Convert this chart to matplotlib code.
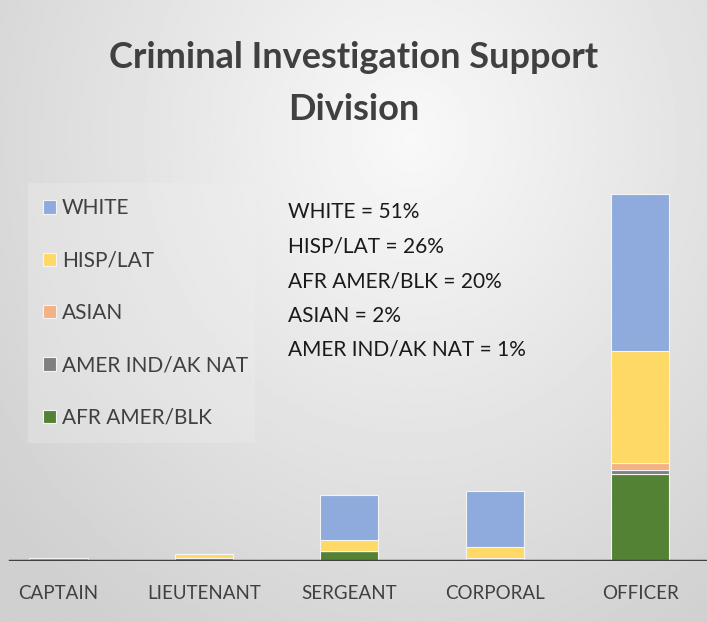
import numpy as np
import matplotlib.pyplot as plt
from matplotlib.patches import Rectangle

plt.rcParams['font.family'] = ['Lato', 'DejaVu Sans']

ranks = ["CAPTAIN", "LIEUTENANT", "SERGEANT", "CORPORAL", "OFFICER"]
# stacked bottom -> top
groups = ["AFR AMER/BLK", "AMER IND/AK NAT", "ASIAN", "HISP/LAT", "WHITE"]
afr = [0, 1, 3, 0, 25]
amer_ind = [0, 0, 0, 0, 1]
asian = [0, 0, 0, 1, 2]
hisp = [0, 1, 3, 3, 32]
white = [1, 0, 13, 16, 45]
colors = ["#548235", "#7f7f7f", "#f4b183", "#ffd966", "#8faadc"]

pct_names = ["WHITE", "HISP/LAT", "AFR AMER/BLK", "ASIAN", "AMER IND/AK NAT"]
pct_vals = [51, 26, 20, 2, 1]

W, H = 707, 622
fig = plt.figure(figsize=(W / 100, H / 100), dpi=100)

# background gradient
bg = fig.add_axes([0, 0, 1, 1], zorder=0)
gx, gy = np.meshgrid(np.linspace(0, 1, 300), np.linspace(1, 0, 300))
r = np.sqrt(((gx - 0.58) / 0.75) ** 2 + ((gy - 0.78) / 0.95) ** 2)
shade = 0.975 - 0.16 * np.clip(r, 0, 1)
bg.imshow(shade, cmap="gray", vmin=0, vmax=1, extent=[0, 1, 0, 1], aspect="auto")
bg.set_axis_off()
bg.add_patch(Rectangle((28 / W, 1 - 443 / H), 227 / W, 260 / H,
                       facecolor="#f0f0f0", alpha=0.3, edgecolor="none"))

# main axes: baseline at y=561px, 3.5 px per unit
px_unit = 3.5
ytop = 120
ax_h = ytop * px_unit
ax = fig.add_axes([0, (H - 561) / H, 1, ax_h / H], zorder=1)
ax.patch.set_alpha(0)
x = np.arange(len(ranks))
slot = 145.4
ax.set_xlim(-58.5 / slot, (W - 58.5) / slot)
ax.set_ylim(0, ytop)

series = [afr, amer_ind, asian, hisp, white]
bottom = np.zeros(len(ranks))
handles = []
for name, vals, c in zip(groups, series, colors):
    b = ax.bar(x, vals, 0.4, bottom=bottom, color=c, edgecolor="#f4f4f4",
               linewidth=0.8, label=name, zorder=2)
    handles.append(b)
    bottom += np.array(vals)

ax.axhline(0, xmin=10 / W, xmax=1, color="#404040", lw=2.5, zorder=3)
for s in ax.spines.values():
    s.set_visible(False)
ax.set_yticks([])
ax.set_xticks(x)
ax.set_xticklabels(ranks, fontsize=13.5, color="#404040")
ax.tick_params(axis="x", length=0, pad=17)

leg = ax.legend(handles[::-1], groups[::-1], loc="upper left",
                bbox_to_anchor=(33 / W, 1 - 188 / H), bbox_transform=fig.transFigure,
                frameon=False, fontsize=15, labelspacing=1.55,
                handlelength=0.6, handleheight=0.6, handletextpad=0.3, borderpad=0)
for t in leg.get_texts():
    t.set_color("#404040")

for i, (n, v) in enumerate(zip(pct_names, pct_vals)):
    fig.text(288 / W, 1 - (212 + i * 34.5) / H, f"{n} = {v}%", fontsize=15,
             color="#1a1a1a", va="center", ha="left")

fig.text(0.5, 1 - 58 / H, "Criminal Investigation Support", fontsize=26,
         color="#404040", ha="center", va="center", weight="bold")
fig.text(0.5, 1 - 110 / H, "Division", fontsize=26,
         color="#404040", ha="center", va="center", weight="bold")

fig.savefig("out.png", dpi=100)
